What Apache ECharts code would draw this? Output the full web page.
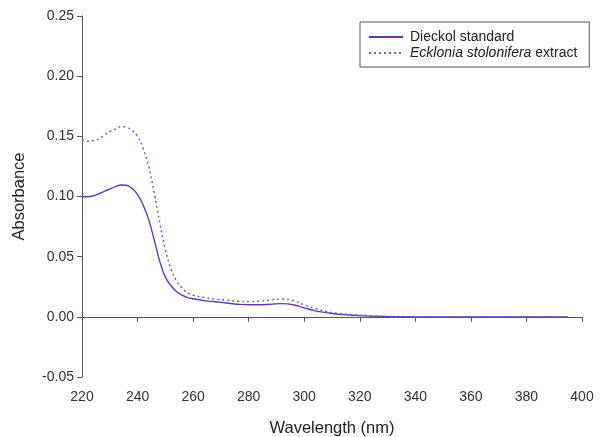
<!DOCTYPE html>
<html>
<head>
<meta charset="utf-8">
<script src="https://cdn.jsdelivr.net/npm/echarts@6/dist/echarts.min.js"></script>
<style>
  html, body { margin: 0; padding: 0; background: #fff; }
  #chart { width: 602px; height: 437px; }
</style>
</head>
<body>
<div id="chart"></div>
<script>
// wavelength (nm)
var wavelengths = [220, 222, 224, 226, 228, 230, 232, 234, 236, 238, 240, 242, 244, 246, 248, 250, 252, 254, 256, 258, 260,
  264, 268, 272, 276, 280, 284, 288, 292, 296, 300, 304, 308, 312, 316, 320, 324, 328, 332, 340, 350, 360, 370, 380, 390, 395];
// absorbance
var dieckol = [0.100, 0.0998, 0.1004, 0.1022, 0.1042, 0.1062, 0.1082, 0.1095, 0.1093, 0.1068, 0.1015, 0.093, 0.081, 0.064, 0.046, 0.033, 0.026, 0.021, 0.018, 0.016, 0.015,
  0.0135, 0.0125, 0.0115, 0.0105, 0.010, 0.010, 0.0105, 0.011, 0.010, 0.0075, 0.005, 0.0035, 0.0022, 0.0015, 0.001, 0.0006, 0.0003, 0.0001, 0, 0, 0, 0, 0, 0, 0];
var extract = [0.147, 0.146, 0.1465, 0.148, 0.151, 0.154, 0.156, 0.158, 0.1575, 0.155, 0.150, 0.140, 0.125, 0.103, 0.078, 0.056, 0.040, 0.030, 0.024, 0.020, 0.018,
  0.016, 0.0148, 0.0138, 0.013, 0.0128, 0.013, 0.014, 0.0148, 0.0135, 0.010, 0.007, 0.0045, 0.003, 0.002, 0.0013, 0.0008, 0.0004, 0.0002, 0, 0, 0, 0, 0, 0, 0];
var xTicks = [220, 240, 260, 280, 300, 320, 340, 360, 380, 400];
var yTicks = [-0.05, 0, 0.05, 0.10, 0.15, 0.20, 0.25];

function pairs(ys) {
  return wavelengths.map(function (x, i) { return [x, ys[i]]; });
}

var myChart = echarts.init(document.getElementById('chart'));
var font = 'Liberation Sans, Arial, sans-serif';
var axisColor = '#555';

myChart.setOption({
  animation: false,
  textStyle: { fontFamily: font },
  grid: { left: 82, right: 20, top: 16, bottom: 60, outerBoundsMode: 'none' },
  legend: {
    left: 360, top: 22,
    orient: 'vertical',
    itemWidth: 34, itemHeight: 10, itemGap: 2,
    padding: [8, 12, 7, 8],
    borderColor: '#555', borderWidth: 1,
    itemStyle: { opacity: 0 },
    textStyle: {
      fontSize: 14, color: '#222', fontFamily: font, padding: [0, 0, 0, 2],
      rich: { i: { fontStyle: 'italic', fontSize: 14, color: '#222', fontFamily: font } }
    },
    formatter: function (name) {
      return name === 'extract' ? '{i|Ecklonia stolonifera} extract' : name;
    },
    data: ['Dieckol standard', 'extract']
  },
  xAxis: {
    type: 'value', min: 220, max: 400, interval: 20,
    name: 'Wavelength (nm)', nameLocation: 'middle', nameGap: 43,
    nameTextStyle: { fontSize: 16.5, color: '#222' },
    axisLine: { lineStyle: { color: axisColor, width: 1 } },
    axisTick: { inside: false, length: 5, lineStyle: { color: axisColor } },
    axisLabel: { fontSize: 14, color: '#333', margin: 13 },
    splitLine: { show: false }
  },
  yAxis: {
    type: 'value', min: -0.05, max: 0.25, interval: 0.05,
    name: 'Absorbance', nameLocation: 'middle', nameGap: 54,
    nameTextStyle: { fontSize: 16.5, color: '#222' },
    axisLine: { show: true, lineStyle: { color: axisColor, width: 1 } },
    axisTick: { show: true, length: 5, lineStyle: { color: axisColor } },
    axisLabel: { fontSize: 14, color: '#333', margin: 8, formatter: function (v) { return v.toFixed(2); } },
    splitLine: { show: false }
  },
  series: [
    {
      name: 'Dieckol standard', type: 'line', smooth: 0.4,
      symbol: 'none', data: pairs(dieckol),
      lineStyle: { color: '#6a35b0', width: 1.4 },
      itemStyle: { color: '#6a35b0' }
    },
    {
      name: 'extract', type: 'line', smooth: 0.4,
      symbol: 'none', data: pairs(extract),
      lineStyle: { color: '#6666cc', width: 1.5, type: [2, 3] },
      itemStyle: { color: '#6666cc' }
    }
  ]
});
</script>
</body>
</html>
